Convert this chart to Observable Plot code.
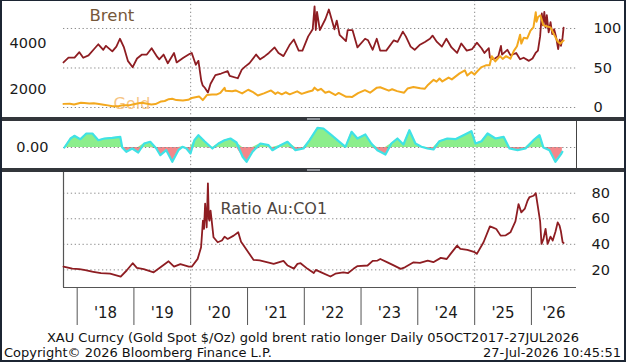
<!DOCTYPE html>
<html><head><meta charset="utf-8">
<script src="https://cdn.jsdelivr.net/npm/d3@7"></script>
<script src="https://cdn.jsdelivr.net/npm/@observablehq/plot@0.6"></script>
<style>
html,body{margin:0;padding:0;background:#fff;}
#root{position:relative;width:626px;height:362px;overflow:hidden;background:#fff;font-family:"DejaVu Sans",sans-serif;}
.band{position:absolute;left:0;width:626px;background:#33363b;}
.handle{position:absolute;left:307px;width:13px;height:2px;background:#8d9197;}
.frame{position:absolute;left:0;top:0;width:622px;height:359px;border:2px solid #1c2533;border-top-width:1px;pointer-events:none;}
.foot{position:absolute;font-family:"DejaVu Sans",sans-serif;font-size:13px;line-height:13px;color:#111;white-space:nowrap;}
</style></head><body><div id="root"></div><script>
// ---------- data ----------
const brent = [["2017-10-05",57],["2017-11-06",63],["2017-12-15",63],["2018-01-15",70],["2018-02-09",63],["2018-03-15",66],["2018-04-20",74],["2018-05-17",80],["2018-06-18",73],["2018-07-05",78],["2018-08-15",71],["2018-09-10",77],["2018-10-03",87],["2018-10-29",76],["2018-11-23",59],["2018-12-24",51],["2019-01-21",62],["2019-02-22",67],["2019-03-25",67],["2019-04-25",75],["2019-05-31",64],["2019-06-13",61],["2019-07-11",67],["2019-08-07",56],["2019-09-16",69],["2019-10-03",57],["2019-11-15",63],["2019-12-27",68],["2020-01-08",69],["2020-02-03",54],["2020-02-20",59],["2020-03-09",34],["2020-03-18",28],["2020-04-01",25],["2020-04-21",19],["2020-05-08",30],["2020-06-08",41],["2020-07-15",43],["2020-08-26",46],["2020-09-08",40],["2020-10-30",37],["2020-11-25",48],["2020-12-18",52],["2021-01-13",56],["2021-02-25",67],["2021-03-23",61],["2021-04-22",65],["2021-05-18",69],["2021-06-24",76],["2021-07-19",69],["2021-08-20",65],["2021-09-28",79],["2021-10-26",86],["2021-11-26",72],["2021-12-20",72],["2022-01-26",90],["2022-02-24",99],["2022-03-08",128],["2022-03-16",98],["2022-03-24",121],["2022-04-11",98],["2022-05-17",112],["2022-06-08",124],["2022-07-14",99],["2022-07-29",110],["2022-08-16",92],["2022-09-26",84],["2022-10-07",98],["2022-11-07",98],["2022-12-09",76],["2023-01-27",87],["2023-02-15",85],["2023-03-17",73],["2023-04-12",87],["2023-05-04",72],["2023-06-12",72],["2023-07-31",85],["2023-08-24",83],["2023-09-27",96],["2023-10-16",90],["2023-11-16",77],["2023-12-12",73],["2024-01-12",79],["2024-02-16",83],["2024-03-19",87],["2024-04-05",91],["2024-05-03",83],["2024-06-04",77],["2024-07-03",87],["2024-08-05",76],["2024-09-10",69],["2024-10-07",81],["2024-11-11",72],["2024-12-16",74],["2025-01-15",82],["2025-02-14",75],["2025-03-05",69],["2025-04-02",75],["2025-04-09",63],["2025-05-05",61],["2025-06-02",65],["2025-06-19",78],["2025-06-26",67],["2025-07-30",73],["2025-08-20",66],["2025-09-25",69],["2025-10-20",61],["2025-11-12",63],["2025-12-16",59],["2026-01-08",62],["2026-01-28",69],["2026-02-12",72],["2026-02-26",90],["2026-03-09",119],["2026-03-16",104],["2026-03-25",121],["2026-04-02",101],["2026-04-10",117],["2026-04-22",95],["2026-05-04",108],["2026-05-15",93],["2026-05-27",99],["2026-06-08",90],["2026-06-22",74],["2026-07-02",86],["2026-07-10",78],["2026-07-20",88],["2026-07-27",101]];

const gold = [["2017-10-05",1375],["2017-11-15",1380],["2017-12-12",1350],["2018-01-25",1420],["2018-02-15",1410],["2018-03-20",1395],["2018-04-18",1405],["2018-05-21",1370],["2018-06-20",1340],["2018-07-18",1310],["2018-08-16",1270],["2018-09-27",1280],["2018-10-26",1320],["2018-11-28",1310],["2018-12-31",1360],["2019-01-31",1400],["2019-02-20",1420],["2019-03-20",1390],["2019-04-23",1350],["2019-05-20",1365],["2019-06-25",1480],["2019-07-18",1500],["2019-08-13",1580],["2019-09-04",1600],["2019-10-01",1540],["2019-11-12",1520],["2019-12-16",1550],["2020-01-08",1630],["2020-02-24",1700],["2020-03-19",1540],["2020-04-14",1760],["2020-05-18",1780],["2020-06-15",1780],["2020-07-10",1850],["2020-08-06",2074],["2020-08-12",1950],["2020-09-24",1920],["2020-10-16",1960],["2020-11-27",1830],["2021-01-05",1990],["2021-02-02",1900],["2021-03-08",1740],["2021-04-16",1830],["2021-06-01",1960],["2021-06-29",1810],["2021-07-15",1880],["2021-08-09",1790],["2021-09-03",1880],["2021-09-29",1790],["2021-11-16",1920],["2021-12-15",1810],["2022-01-25",1900],["2022-02-24",1960],["2022-03-08",2080],["2022-03-29",1960],["2022-04-18",2030],["2022-05-16",1860],["2022-06-10",1910],["2022-07-21",1760],["2022-08-10",1850],["2022-09-28",1680],["2022-10-20",1680],["2022-11-03",1670],["2022-12-13",1840],["2023-01-26",1970],["2023-02-28",1860],["2023-04-13",2080],["2023-05-04",2100],["2023-06-29",1950],["2023-07-20",2010],["2023-08-21",1930],["2023-10-05",1860],["2023-10-27",2040],["2023-12-04",2110],["2024-01-17",2050],["2024-02-14",2030],["2024-03-08",2210],["2024-04-12",2420],["2024-05-01",2340],["2024-05-20",2480],["2024-06-07",2350],["2024-07-17",2520],["2024-08-07",2440],["2024-09-26",2700],["2024-10-30",2830],["2024-11-14",2610],["2024-12-11",2760],["2024-12-30",2650],["2025-02-11",2960],["2025-03-14",3050],["2025-04-07",3050],["2025-04-21",3450],["2025-05-14",3220],["2025-06-13",3450],["2025-06-30",3330],["2025-07-22",3450],["2025-08-19",3340],["2025-09-09",3670],["2025-09-30",3880],["2025-10-20",4380],["2025-10-28",4000],["2025-11-13",4250],["2025-12-05",4220],["2025-12-26",4560],["2026-01-14",4700],["2026-01-29",5360],["2026-02-03",4950],["2026-02-13",5150],["2026-02-28",5220],["2026-03-19",4800],["2026-04-08",4750],["2026-05-04",4700],["2026-05-22",4450],["2026-06-18",4100],["2026-07-05",3990],["2026-07-14",4050],["2026-07-27",4130]];

const osc = [["2017-10-11",0],["2017-11-19",9],["2017-12-14",11.7],["2018-01-21",8.3],["2018-03-01",14],["2018-04-09",14],["2018-05-17",7.3],["2018-06-25",9],["2018-08-15",9.7],["2018-10-05",10.7],["2018-10-18",0],["2018-11-13",-4.3],["2018-12-21",-1],["2019-01-29",-5],["2019-03-08",4],["2019-04-16",5.7],["2019-05-25",-1],["2019-06-20",-7.7],["2019-07-28",-2.7],["2019-09-05",-14.3],["2019-10-14",-2.7],["2019-11-09",0.7],["2019-12-05",-1],["2019-12-31",-6],["2020-01-25",7.3],["2020-02-20",12.3],["2020-03-30",6.3],["2020-05-20",-1],["2020-06-28",4],["2020-08-06",7.3],["2020-09-13",9],["2020-10-22",5],["2020-11-30",-9.3],["2020-12-26",-14.3],["2021-02-02",-4.3],["2021-03-25",4],["2021-05-16",2.3],["2021-06-10",-2.7],["2021-08-01",2.3],["2021-09-15",5.7],["2021-11-05",-2.7],["2021-12-27",-1],["2022-02-04",7.3],["2022-03-27",19.7],["2022-05-04",19],["2022-06-25",12.3],["2022-08-15",5.7],["2022-09-23",0.7],["2022-11-01",15.7],["2022-12-09",9],["2023-01-29",13],["2023-03-08",4],["2023-04-16",-2.7],["2023-06-07",-7],["2023-07-15",4],["2023-08-23",9],["2023-10-01",3],["2023-11-08",17.3],["2023-12-17",4],["2024-01-24",0.7],["2024-03-03",-1],["2024-04-11",-2],["2024-05-19",6.3],["2024-07-09",9],["2024-08-30",8.3],["2024-10-21",12.3],["2024-12-11",16.3],["2025-01-06",4],["2025-02-14",6.3],["2025-03-25",14],["2025-05-15",9],["2025-07-06",10.7],["2025-08-13",-1],["2025-10-04",-2.7],["2025-11-24",-1],["2026-01-14",7.3],["2026-02-22",12.3],["2026-03-19",0],["2026-04-27",-2.7],["2026-06-04",-14.3],["2026-07-13",-6],["2026-07-19",-4.3]];

const ratio = [["2017-10-05",22.6],["2017-12-01",21],["2018-01-15",20.5],["2018-02-14",20],["2018-04-15",18.5],["2018-06-03",17.4],["2018-08-01",17],["2018-10-08",14.8],["2018-11-15",19.5],["2018-12-24",25.2],["2019-01-20",21.5],["2019-03-05",20.5],["2019-05-08",18.1],["2019-06-21",22],["2019-08-12",26.7],["2019-09-16",22.5],["2019-10-27",24.5],["2019-12-20",22.6],["2020-01-08",22.5],["2020-02-15",28.6],["2020-03-08",37.7],["2020-03-20",58.5],["2020-03-27",52],["2020-04-03",71.8],["2020-04-13",53.3],["2020-04-21",87.7],["2020-04-27",60],["2020-05-01",58.5],["2020-05-08",66.3],["2020-05-14",60],["2020-05-27",45.5],["2020-06-23",41.6],["2020-07-20",43],["2020-08-06",46],["2020-08-26",44.2],["2020-10-04",46.8],["2020-11-02",49.4],["2020-11-20",42],["2020-12-07",39],["2021-01-10",33],["2021-02-09",27.8],["2021-03-20",27.5],["2021-05-11",25.9],["2021-06-18",24.7],["2021-08-20",27],["2021-09-16",23.4],["2021-10-26",21],["2021-11-18",24.7],["2021-12-08",25.2],["2022-01-22",20.8],["2022-03-03",17.5],["2022-03-16",20],["2022-04-20",18],["2022-06-18",14.8],["2022-07-20",17],["2022-09-09",18.1],["2022-10-10",17.5],["2022-11-13",20.8],["2022-12-10",23],["2023-02-12",23.4],["2023-03-17",27],["2023-04-17",27.3],["2023-05-05",28.5],["2023-06-20",25.9],["2023-07-30",23.5],["2023-09-13",20.8],["2023-10-10",22],["2023-12-05",25.9],["2024-01-15",25.5],["2024-03-05",27.3],["2024-04-10",26],["2024-05-28",29.4],["2024-07-05",28.5],["2024-07-30",32.5],["2024-09-10",39],["2024-10-01",36.4],["2024-11-15",35.6],["2025-01-01",33.8],["2025-01-15",32.5],["2025-02-27",41.6],["2025-04-09",54],["2025-04-26",53.3],["2025-05-20",52],["2025-06-17",46.8],["2025-07-20",47],["2025-08-19",49.4],["2025-09-20",58],["2025-10-10",71.5],["2025-10-28",65],["2025-11-20",68],["2025-12-07",74.1],["2025-12-20",77],["2026-01-15",78],["2026-01-29",80],["2026-02-09",71.5],["2026-02-26",58],["2026-03-07",40.3],["2026-03-19",44],["2026-04-02",52],["2026-04-15",40.3],["2026-05-04",46],["2026-05-18",42.9],["2026-06-05",50],["2026-06-19",57.2],["2026-07-01",54.6],["2026-07-10",50],["2026-07-21",41.6],["2026-07-27",41]];

const brentTicks = [0, 50, 100];
const goldTicks = [2000, 4000];
const oscTicks = [0];
const ratioTicks = [20, 40, 60, 80];
const years = [2018, 2019, 2020, 2021, 2022, 2023, 2024, 2025, 2026];
const gridYears = [2020, 2025];
const footer1 = "XAU Curncy (Gold Spot  $/Oz) gold brent ratio longer Daily 05OCT2017-27JUL2026";
const footer2 = "Copyright\u00A9 2026 Bloomberg Finance L.P.";
const footer3 = "27-Jul-2026 10:45:51";

// ---------- build ----------
const parse = d3.utcParse("%Y-%m-%d");
const rows = a => a.map(([d, v]) => ({date: parse(d), value: v}));
const xDomain = [parse("2017-10-05"), parse("2026-10-18")];
const W = 626, ML = 63, MR = 50;
const FONT = "DejaVu Sans";
const DARKRED = "#8e1d22", ORANGE = "#f3a81e";
const gridStyle = {stroke: "#8a8a8a", strokeDasharray: "1.3,2.6", strokeWidth: 1};
const vlines = gridYears.map(y => new Date(Date.UTC(y, 0, 1)));
const root = document.getElementById("root");
function place(el, top) {
  const d = document.createElement("div");
  d.style.cssText = `position:absolute;left:0;top:${top}px;`;
  d.appendChild(el); root.appendChild(d);
}
const base = (h, extra={}) => ({width: W, height: h, marginLeft: ML, marginRight: MR, marginTop: 0, marginBottom: 0,
  style: {background: "transparent", fontFamily: FONT, fontSize: "14.5px", color: "#1a1a1a", overflow: "visible"}, ...extra});

// Top panel: Brent (right axis)
const topH = 117;
place(Plot.plot({...base(topH),
  x: {type: "utc", domain: xDomain, axis: null},
  y: {domain: [-12.66, 135.4]},
  marks: [
    Plot.ruleY(brentTicks, gridStyle),
    Plot.ruleX(vlines, gridStyle),
    Plot.axisY({anchor: "right", ticks: brentTicks, tickSize: 0, tickPadding: 17, label: null, fontSize: 14.5}),
    Plot.text(["Brent"], {frameAnchor: "top-left", dx: 26, dy: 15, lineAnchor: "middle", textAnchor: "start", fill: "#76583a", fontSize: 16.5}),
    Plot.line(rows(brent), {x: "date", y: "value", stroke: DARKRED, strokeWidth: 1.8})
  ]
}), 0);
// Top panel: Gold (left axis)
place(Plot.plot({...base(topH),
  x: {type: "utc", domain: xDomain, axis: null},
  y: {domain: [782.6, 5869.6]},
  marks: [
    Plot.axisY({anchor: "left", ticks: goldTicks, tickFormat: d3.format("d"), tickSize: 0, tickPadding: 17, label: null, fontSize: 14.5}),
    Plot.text(["Gold"], {frameAnchor: "top-left", dx: 50, dy: 103.5, lineAnchor: "middle", textAnchor: "start", fill: "#f6c585", fontSize: 16}),
    Plot.line(rows(gold), {x: "date", y: "value", stroke: ORANGE, strokeWidth: 2})
  ]
}), 0);

// Middle panel: oscillator
const oscRows = rows(osc);
place(Plot.plot({...base(47),
  x: {type: "utc", domain: xDomain, axis: null},
  y: {domain: [-21, 26]},
  marks: [
    Plot.ruleX(vlines, gridStyle),
    Plot.areaY(oscRows, {x: "date", y1: 0, y2: d => Math.max(d.value, 0), fill: "#8cee8c"}),
    Plot.areaY(oscRows, {x: "date", y1: 0, y2: d => Math.min(d.value, 0), fill: "#f3878a"}),
    Plot.ruleY(oscTicks, gridStyle),
    Plot.line(oscRows, {x: "date", y: "value", stroke: "#3fe2e6", strokeWidth: 2.2}),
    Plot.ruleX([xDomain[1]], {stroke: "#444", strokeWidth: 1}),
    Plot.axisY({anchor: "left", ticks: oscTicks, tickFormat: d3.format(".2f"), tickSize: 0, tickPadding: 15, label: null, fontSize: 14.5})
  ]
}), 121);

// Bottom panel: ratio
const yRatio = [6.2, 96.2];
const yearLabels = years.map(y => {
  const a = Math.max(Date.UTC(y, 0, 1), +xDomain[0]);
  const b = Math.min(Date.UTC(y + 1, 0, 1), +xDomain[1]);
  return {mid: new Date((a + b) / 2), label: "'" + String(y).slice(2)};
});
place(Plot.plot({...base(158, {marginBottom: 43}),
  x: {type: "utc", domain: xDomain},
  y: {domain: yRatio},
  marks: [
    Plot.ruleY(ratioTicks, gridStyle),
    Plot.ruleX(vlines, gridStyle),
    Plot.ruleX([xDomain[0]], {stroke: "#555", strokeWidth: 1.2}),
    Plot.ruleY([yRatio[0]], {stroke: "#555", strokeWidth: 1.2}),
    Plot.axisX({ticks: years.map(y => new Date(Date.UTC(y, 0, 1))), tickSize: 38, tickFormat: () => "", label: null, stroke: "#555"}),
    Plot.text(yearLabels, {x: "mid", text: "label", frameAnchor: "bottom", dy: 30, fontSize: 15, fill: "#1a1a1a"}),
    Plot.axisY({anchor: "right", ticks: ratioTicks, tickSize: 0, tickPadding: 15, label: null, fontSize: 14.5}),
    Plot.text(["Ratio Au:CO1"], {frameAnchor: "top-left", dx: 157, dy: 36, lineAnchor: "middle", textAnchor: "start", fill: "#4d4540", fontSize: 16}),
    Plot.line(rows(ratio), {x: "date", y: "value", stroke: DARKRED, strokeWidth: 1.8})
  ]
}), 172);

// separators, footer, frame
function div(cls, css, text) { const d = document.createElement("div"); d.className = cls; d.style.cssText = css; if (text) d.textContent = text; root.appendChild(d); return d; }
div("band", "top:117px;height:4px;");
div("band", "top:168px;height:4px;");
div("handle", "top:118px;");
div("handle", "top:169px;");
div("foot", "left:0;width:626px;text-align:center;top:331px;", footer1);
div("foot", "left:4px;top:346px;", footer2);
div("foot", "right:5px;top:346px;", footer3);
div("frame", "");
</script></body></html>
